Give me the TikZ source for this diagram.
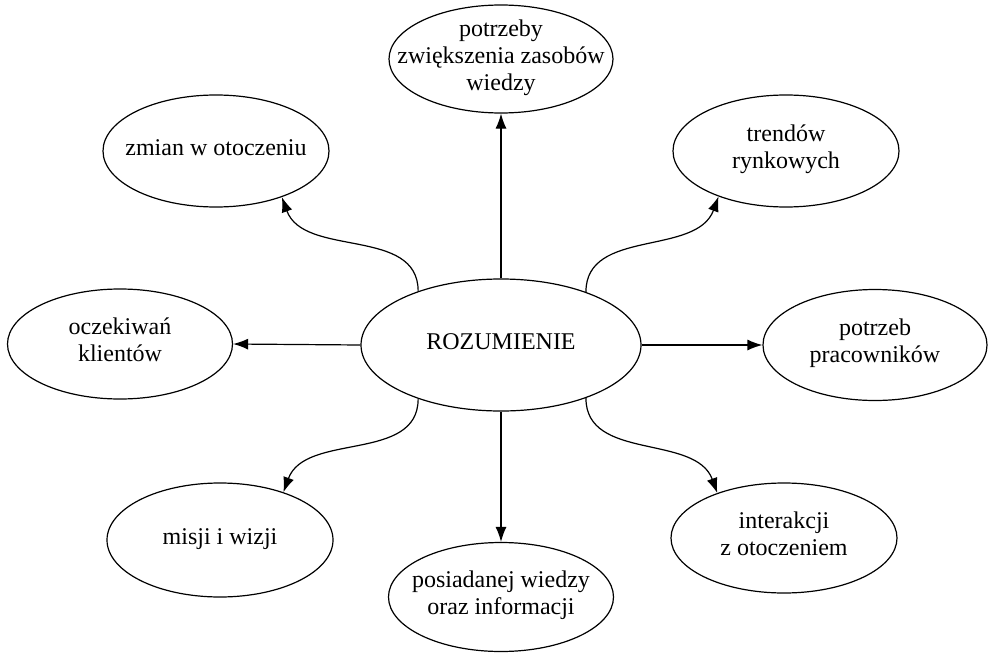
\documentclass[tikz,border=0pt]{standalone}
\usepackage{fontspec}
\setmainfont{Liberation Serif}
\usetikzlibrary{shapes.geometric,arrows.meta}
\newcommand{\ovaltext}[1]{\makebox[0pt]{\raisebox{-0.22em}[0pt][0pt]{\begin{tabular}[c]{@{}c@{}}#1\end{tabular}}}}
\begin{document}
\begin{tikzpicture}[x=1pt,y=-1pt,
  oval/.style={draw, ellipse, line width=1.2pt, inner sep=0pt, font=\fontsize{24}{27}\selectfont},
  conn/.style={line width=1.2pt, -{Latex[length=15pt,width=11pt]}}]
\useasboundingbox (0,0) rectangle (988,653);
\node[oval, minimum width=280, minimum height=132] (c) at (501,345) {\ovaltext{ROZUMIENIE}};
\node[oval, minimum width=224, minimum height=108] (t) at (501,59) {\ovaltext{potrzeby\\zwiększenia zasobów\\wiedzy}};
\node[oval, minimum width=226, minimum height=112] (tl) at (216,151) {\ovaltext{zmian w otoczeniu}};
\node[oval, minimum width=226, minimum height=112] (tr) at (786,151) {\ovaltext{trendów\\rynkowych}};
\node[oval, minimum width=225, minimum height=110] (l) at (120,344) {\ovaltext{oczekiwań\\klientów}};
\node[oval, minimum width=224, minimum height=111] (r) at (875,345) {\ovaltext{potrzeb\\pracowników}};
\node[oval, minimum width=226, minimum height=114] (bl) at (220,540) {\ovaltext{misji i wizji}};
\node[oval, minimum width=225, minimum height=109] (b) at (501,597) {\ovaltext{posiadanej wiedzy\\oraz informacji}};
\node[oval, minimum width=226, minimum height=110] (br) at (784,538) {\ovaltext{interakcji\\z otoczeniem}};
\draw[conn] (c.north) -- (t.south);
\draw[conn] (c.west) -- (l.east);
\draw[conn] (c.east) -- (r.west);
\draw[conn] (c.south) -- (b.north);
\draw[conn] (c.147.5) to[out=90,in=-70] (tl.-35);
\draw[conn] (c.32.5) to[out=90,in=-110] (tr.214);
\draw[conn] (c.-147.5) to[out=-90,in=70] (bl.37);
\draw[conn] (c.-32.5) to[out=-90,in=110] (br.146);
\end{tikzpicture}
\end{document}
